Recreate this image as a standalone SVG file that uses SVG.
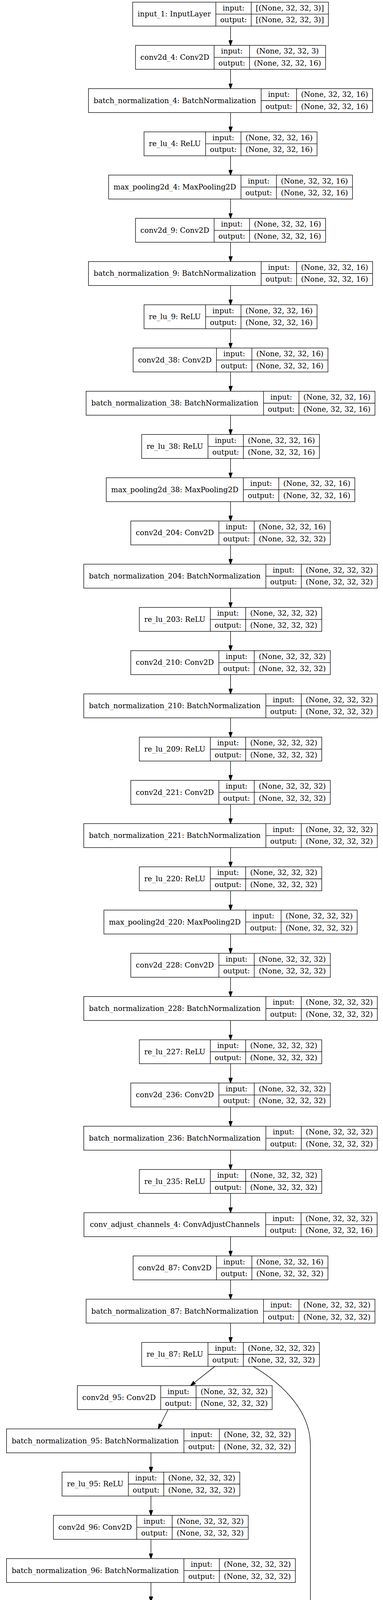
<svg xmlns="http://www.w3.org/2000/svg" width="981" height="5496" viewBox="0 0 981 5496">
<style>
.node rect{fill:#fff;stroke:#000;stroke-width:1.33}
.node path{fill:none;stroke:#000;stroke-width:1.33}
.node text{font-family:"DejaVu Serif",serif;font-size:18.67px;text-anchor:middle;fill:#000}
#edges path{fill:none;stroke:#000;stroke-width:1.33;marker-end:url(#ah)}
</style>
<defs>
<marker id="ah" markerUnits="userSpaceOnUse" markerWidth="14" markerHeight="10" viewBox="0 0 13.3 9.34" refX="0" refY="4.67" orient="auto"><path d="M0,0L13.3,4.67L0,9.34z" fill="#000" stroke="#000" stroke-width="1"/></marker>
</defs>
<rect x="0" y="0" width="981" height="5496" fill="#fff"/>
<g id="edges">
<path d="M590.5,66.8V102.88"/>
<path d="M590.5,177.48V213.56"/>
<path d="M590.5,288.16V324.24"/>
<path d="M590.5,398.84V434.92"/>
<path d="M590.5,509.52V545.6"/>
<path d="M590.5,620.2V656.28"/>
<path d="M590.5,730.88V766.96"/>
<path d="M590.5,841.56V877.64"/>
<path d="M590.5,952.24V988.32"/>
<path d="M590.5,1062.92V1099"/>
<path d="M590.5,1173.6V1209.68"/>
<path d="M590.5,1284.28V1320.36"/>
<path d="M590.5,1394.96V1431.04"/>
<path d="M590.5,1505.64V1541.72"/>
<path d="M590.5,1616.32V1652.4"/>
<path d="M590.5,1727V1763.08"/>
<path d="M590.5,1837.68V1873.76"/>
<path d="M590.5,1948.36V1984.44"/>
<path d="M590.5,2059.04V2095.12"/>
<path d="M590.5,2169.72V2205.8"/>
<path d="M590.5,2280.4V2316.48"/>
<path d="M590.5,2391.08V2427.16"/>
<path d="M590.5,2501.76V2537.84"/>
<path d="M590.5,2612.44V2648.52"/>
<path d="M590.5,2723.12V2759.2"/>
<path d="M590.5,2833.8V2869.88"/>
<path d="M590.5,2944.48V2980.56"/>
<path d="M590.5,3055.16V3091.24"/>
<path d="M590.5,3165.84V3201.92"/>
<path d="M590.5,3276.52V3312.6"/>
<path d="M590.5,3387.2V3423.28"/>
<path d="M550.5,3497.88L498.6,3538.9"/>
<path d="M648.5,3497.88C705,3532 795,3600 795,3700L795,4600C795,4700 770,4730 702.9,4759.4"/>
<path d="M430.4,3608.56L411.41,3646.07"/>
<path d="M386.6,3719.24V3755.32"/>
<path d="M386.6,3829.92V3866"/>
<path d="M386.6,3940.6V3976.68"/>
<path d="M386.6,4051.28V4087.36"/>
<path d="M386.4,4161.96L385.9,4198.04"/>
<path d="M384.1,4272.64L383.2,4308.72"/>
<path d="M381.6,4383.32L381.15,4419.4"/>
<path d="M388.5,4494L395.41,4530.32"/>
<path d="M410.4,4604.68L414.06,4640.83"/>
<path d="M470.5,4715.36L538.7,4757.72"/>
<path d="M600,4826.04V4862.12"/>
<path d="M600,4936.72V4972.8"/>
<path d="M600,5047.4V5083.48"/>
<path d="M600,5158.08V5194.16"/>
<path d="M600,5268.76V5304.84"/>
<path d="M600,5379.44V5415.52"/>
</g>
<g id="input_1" class="node" transform="translate(0,5.5)"><rect x="339.8" y="0" width="501.4" height="61.3"/><path d="M552.8,0V61.3M643.5,0V61.3M552.8,30.65H841.2"/><text x="446.3" y="36.8">input_1: InputLayer</text><text x="598.15" y="21.3">input:</text><text x="598.15" y="51.9">output:</text><text x="742.35" y="21.3">[(None, 32, 32, 3)]</text><text x="742.35" y="51.9">[(None, 32, 32, 3)]</text></g>
<g id="conv2d_4" class="node" transform="translate(0,116.18)"><rect x="347.05" y="0" width="486.9" height="61.3"/><path d="M548.45,0V61.3M639.15,0V61.3M548.45,30.65H833.95"/><text x="447.75" y="36.8">conv2d_4: Conv2D</text><text x="593.8" y="21.3">input:</text><text x="593.8" y="51.9">output:</text><text x="736.55" y="21.3">(None, 32, 32, 3)</text><text x="736.55" y="51.9">(None, 32, 32, 16)</text></g>
<g id="batch_normalization_4" class="node" transform="translate(0,226.86)"><rect x="226.6" y="0" width="727.8" height="61.3"/><path d="M668.9,0V61.3M759.6,0V61.3M668.9,30.65H954.4"/><text x="447.75" y="36.8">batch_normalization_4: BatchNormalization</text><text x="714.25" y="21.3">input:</text><text x="714.25" y="51.9">output:</text><text x="857" y="21.3">(None, 32, 32, 16)</text><text x="857" y="51.9">(None, 32, 32, 16)</text></g>
<g id="re_lu_4" class="node" transform="translate(0,337.54)"><rect x="368.9" y="0" width="443.2" height="61.3"/><path d="M526.6,0V61.3M617.3,0V61.3M526.6,30.65H812.1"/><text x="447.75" y="36.8">re_lu_4: ReLU</text><text x="571.95" y="21.3">input:</text><text x="571.95" y="51.9">output:</text><text x="714.7" y="21.3">(None, 32, 32, 16)</text><text x="714.7" y="51.9">(None, 32, 32, 16)</text></g>
<g id="max_pooling2d_4" class="node" transform="translate(0,448.22)"><rect x="278.2" y="0" width="624.6" height="61.3"/><path d="M617.3,0V61.3M708,0V61.3M617.3,30.65H902.8"/><text x="447.75" y="36.8">max_pooling2d_4: MaxPooling2D</text><text x="662.65" y="21.3">input:</text><text x="662.65" y="51.9">output:</text><text x="805.4" y="21.3">(None, 32, 32, 16)</text><text x="805.4" y="51.9">(None, 32, 32, 16)</text></g>
<g id="conv2d_9" class="node" transform="translate(0,558.9)"><rect x="347.05" y="0" width="486.9" height="61.3"/><path d="M548.45,0V61.3M639.15,0V61.3M548.45,30.65H833.95"/><text x="447.75" y="36.8">conv2d_9: Conv2D</text><text x="593.8" y="21.3">input:</text><text x="593.8" y="51.9">output:</text><text x="736.55" y="21.3">(None, 32, 32, 16)</text><text x="736.55" y="51.9">(None, 32, 32, 16)</text></g>
<g id="batch_normalization_9" class="node" transform="translate(0,669.58)"><rect x="226.6" y="0" width="727.8" height="61.3"/><path d="M668.9,0V61.3M759.6,0V61.3M668.9,30.65H954.4"/><text x="447.75" y="36.8">batch_normalization_9: BatchNormalization</text><text x="714.25" y="21.3">input:</text><text x="714.25" y="51.9">output:</text><text x="857" y="21.3">(None, 32, 32, 16)</text><text x="857" y="51.9">(None, 32, 32, 16)</text></g>
<g id="re_lu_9" class="node" transform="translate(0,780.26)"><rect x="368.9" y="0" width="443.2" height="61.3"/><path d="M526.6,0V61.3M617.3,0V61.3M526.6,30.65H812.1"/><text x="447.75" y="36.8">re_lu_9: ReLU</text><text x="571.95" y="21.3">input:</text><text x="571.95" y="51.9">output:</text><text x="714.7" y="21.3">(None, 32, 32, 16)</text><text x="714.7" y="51.9">(None, 32, 32, 16)</text></g>
<g id="conv2d_38" class="node" transform="translate(0,890.94)"><rect x="341" y="0" width="499" height="61.3"/><path d="M554.5,0V61.3M645.2,0V61.3M554.5,30.65H840"/><text x="447.75" y="36.8">conv2d_38: Conv2D</text><text x="599.85" y="21.3">input:</text><text x="599.85" y="51.9">output:</text><text x="742.6" y="21.3">(None, 32, 32, 16)</text><text x="742.6" y="51.9">(None, 32, 32, 16)</text></g>
<g id="batch_normalization_38" class="node" transform="translate(0,1001.62)"><rect x="220.55" y="0" width="739.9" height="61.3"/><path d="M674.95,0V61.3M765.65,0V61.3M674.95,30.65H960.45"/><text x="447.75" y="36.8">batch_normalization_38: BatchNormalization</text><text x="720.3" y="21.3">input:</text><text x="720.3" y="51.9">output:</text><text x="863.05" y="21.3">(None, 32, 32, 16)</text><text x="863.05" y="51.9">(None, 32, 32, 16)</text></g>
<g id="re_lu_38" class="node" transform="translate(0,1112.3)"><rect x="362.85" y="0" width="455.3" height="61.3"/><path d="M532.65,0V61.3M623.35,0V61.3M532.65,30.65H818.15"/><text x="447.75" y="36.8">re_lu_38: ReLU</text><text x="578" y="21.3">input:</text><text x="578" y="51.9">output:</text><text x="720.75" y="21.3">(None, 32, 32, 16)</text><text x="720.75" y="51.9">(None, 32, 32, 16)</text></g>
<g id="max_pooling2d_38" class="node" transform="translate(0,1222.98)"><rect x="272.15" y="0" width="636.7" height="61.3"/><path d="M623.35,0V61.3M714.05,0V61.3M623.35,30.65H908.85"/><text x="447.75" y="36.8">max_pooling2d_38: MaxPooling2D</text><text x="668.7" y="21.3">input:</text><text x="668.7" y="51.9">output:</text><text x="811.45" y="21.3">(None, 32, 32, 16)</text><text x="811.45" y="51.9">(None, 32, 32, 16)</text></g>
<g id="conv2d_204" class="node" transform="translate(0,1333.66)"><rect x="334.95" y="0" width="511.1" height="61.3"/><path d="M560.55,0V61.3M651.25,0V61.3M560.55,30.65H846.05"/><text x="447.75" y="36.8">conv2d_204: Conv2D</text><text x="605.9" y="21.3">input:</text><text x="605.9" y="51.9">output:</text><text x="748.65" y="21.3">(None, 32, 32, 16)</text><text x="748.65" y="51.9">(None, 32, 32, 32)</text></g>
<g id="batch_normalization_204" class="node" transform="translate(0,1444.34)"><rect x="214.55" y="0" width="751.9" height="61.3"/><path d="M680.95,0V61.3M771.65,0V61.3M680.95,30.65H966.45"/><text x="447.75" y="36.8">batch_normalization_204: BatchNormalization</text><text x="726.3" y="21.3">input:</text><text x="726.3" y="51.9">output:</text><text x="869.05" y="21.3">(None, 32, 32, 32)</text><text x="869.05" y="51.9">(None, 32, 32, 32)</text></g>
<g id="re_lu_203" class="node" transform="translate(0,1555.02)"><rect x="356.85" y="0" width="467.3" height="61.3"/><path d="M538.65,0V61.3M629.35,0V61.3M538.65,30.65H824.15"/><text x="447.75" y="36.8">re_lu_203: ReLU</text><text x="584" y="21.3">input:</text><text x="584" y="51.9">output:</text><text x="726.75" y="21.3">(None, 32, 32, 32)</text><text x="726.75" y="51.9">(None, 32, 32, 32)</text></g>
<g id="conv2d_210" class="node" transform="translate(0,1665.7)"><rect x="334.95" y="0" width="511.1" height="61.3"/><path d="M560.55,0V61.3M651.25,0V61.3M560.55,30.65H846.05"/><text x="447.75" y="36.8">conv2d_210: Conv2D</text><text x="605.9" y="21.3">input:</text><text x="605.9" y="51.9">output:</text><text x="748.65" y="21.3">(None, 32, 32, 32)</text><text x="748.65" y="51.9">(None, 32, 32, 32)</text></g>
<g id="batch_normalization_210" class="node" transform="translate(0,1776.38)"><rect x="214.55" y="0" width="751.9" height="61.3"/><path d="M680.95,0V61.3M771.65,0V61.3M680.95,30.65H966.45"/><text x="447.75" y="36.8">batch_normalization_210: BatchNormalization</text><text x="726.3" y="21.3">input:</text><text x="726.3" y="51.9">output:</text><text x="869.05" y="21.3">(None, 32, 32, 32)</text><text x="869.05" y="51.9">(None, 32, 32, 32)</text></g>
<g id="re_lu_209" class="node" transform="translate(0,1887.06)"><rect x="356.85" y="0" width="467.3" height="61.3"/><path d="M538.65,0V61.3M629.35,0V61.3M538.65,30.65H824.15"/><text x="447.75" y="36.8">re_lu_209: ReLU</text><text x="584" y="21.3">input:</text><text x="584" y="51.9">output:</text><text x="726.75" y="21.3">(None, 32, 32, 32)</text><text x="726.75" y="51.9">(None, 32, 32, 32)</text></g>
<g id="conv2d_221" class="node" transform="translate(0,1997.74)"><rect x="334.95" y="0" width="511.1" height="61.3"/><path d="M560.55,0V61.3M651.25,0V61.3M560.55,30.65H846.05"/><text x="447.75" y="36.8">conv2d_221: Conv2D</text><text x="605.9" y="21.3">input:</text><text x="605.9" y="51.9">output:</text><text x="748.65" y="21.3">(None, 32, 32, 32)</text><text x="748.65" y="51.9">(None, 32, 32, 32)</text></g>
<g id="batch_normalization_221" class="node" transform="translate(0,2108.42)"><rect x="214.55" y="0" width="751.9" height="61.3"/><path d="M680.95,0V61.3M771.65,0V61.3M680.95,30.65H966.45"/><text x="447.75" y="36.8">batch_normalization_221: BatchNormalization</text><text x="726.3" y="21.3">input:</text><text x="726.3" y="51.9">output:</text><text x="869.05" y="21.3">(None, 32, 32, 32)</text><text x="869.05" y="51.9">(None, 32, 32, 32)</text></g>
<g id="re_lu_220" class="node" transform="translate(0,2219.1)"><rect x="356.85" y="0" width="467.3" height="61.3"/><path d="M538.65,0V61.3M629.35,0V61.3M538.65,30.65H824.15"/><text x="447.75" y="36.8">re_lu_220: ReLU</text><text x="584" y="21.3">input:</text><text x="584" y="51.9">output:</text><text x="726.75" y="21.3">(None, 32, 32, 32)</text><text x="726.75" y="51.9">(None, 32, 32, 32)</text></g>
<g id="max_pooling2d_220" class="node" transform="translate(0,2329.78)"><rect x="266.15" y="0" width="648.7" height="61.3"/><path d="M629.35,0V61.3M720.05,0V61.3M629.35,30.65H914.85"/><text x="447.75" y="36.8">max_pooling2d_220: MaxPooling2D</text><text x="674.7" y="21.3">input:</text><text x="674.7" y="51.9">output:</text><text x="817.45" y="21.3">(None, 32, 32, 32)</text><text x="817.45" y="51.9">(None, 32, 32, 32)</text></g>
<g id="conv2d_228" class="node" transform="translate(0,2440.46)"><rect x="334.95" y="0" width="511.1" height="61.3"/><path d="M560.55,0V61.3M651.25,0V61.3M560.55,30.65H846.05"/><text x="447.75" y="36.8">conv2d_228: Conv2D</text><text x="605.9" y="21.3">input:</text><text x="605.9" y="51.9">output:</text><text x="748.65" y="21.3">(None, 32, 32, 32)</text><text x="748.65" y="51.9">(None, 32, 32, 32)</text></g>
<g id="batch_normalization_228" class="node" transform="translate(0,2551.14)"><rect x="214.55" y="0" width="751.9" height="61.3"/><path d="M680.95,0V61.3M771.65,0V61.3M680.95,30.65H966.45"/><text x="447.75" y="36.8">batch_normalization_228: BatchNormalization</text><text x="726.3" y="21.3">input:</text><text x="726.3" y="51.9">output:</text><text x="869.05" y="21.3">(None, 32, 32, 32)</text><text x="869.05" y="51.9">(None, 32, 32, 32)</text></g>
<g id="re_lu_227" class="node" transform="translate(0,2661.82)"><rect x="356.85" y="0" width="467.3" height="61.3"/><path d="M538.65,0V61.3M629.35,0V61.3M538.65,30.65H824.15"/><text x="447.75" y="36.8">re_lu_227: ReLU</text><text x="584" y="21.3">input:</text><text x="584" y="51.9">output:</text><text x="726.75" y="21.3">(None, 32, 32, 32)</text><text x="726.75" y="51.9">(None, 32, 32, 32)</text></g>
<g id="conv2d_236" class="node" transform="translate(0,2772.5)"><rect x="334.95" y="0" width="511.1" height="61.3"/><path d="M560.55,0V61.3M651.25,0V61.3M560.55,30.65H846.05"/><text x="447.75" y="36.8">conv2d_236: Conv2D</text><text x="605.9" y="21.3">input:</text><text x="605.9" y="51.9">output:</text><text x="748.65" y="21.3">(None, 32, 32, 32)</text><text x="748.65" y="51.9">(None, 32, 32, 32)</text></g>
<g id="batch_normalization_236" class="node" transform="translate(0,2883.18)"><rect x="214.55" y="0" width="751.9" height="61.3"/><path d="M680.95,0V61.3M771.65,0V61.3M680.95,30.65H966.45"/><text x="447.75" y="36.8">batch_normalization_236: BatchNormalization</text><text x="726.3" y="21.3">input:</text><text x="726.3" y="51.9">output:</text><text x="869.05" y="21.3">(None, 32, 32, 32)</text><text x="869.05" y="51.9">(None, 32, 32, 32)</text></g>
<g id="re_lu_235" class="node" transform="translate(0,2993.86)"><rect x="356.85" y="0" width="467.3" height="61.3"/><path d="M538.65,0V61.3M629.35,0V61.3M538.65,30.65H824.15"/><text x="447.75" y="36.8">re_lu_235: ReLU</text><text x="584" y="21.3">input:</text><text x="584" y="51.9">output:</text><text x="726.75" y="21.3">(None, 32, 32, 32)</text><text x="726.75" y="51.9">(None, 32, 32, 32)</text></g>
<g id="conv_adjust_channels_4" class="node" transform="translate(0,3104.54)"><rect x="215" y="0" width="751" height="61.3"/><path d="M680.5,0V61.3M771.2,0V61.3M680.5,30.65H966"/><text x="447.75" y="36.8">conv_adjust_channels_4: ConvAdjustChannels</text><text x="725.85" y="21.3">input:</text><text x="725.85" y="51.9">output:</text><text x="868.6" y="21.3">(None, 32, 32, 32)</text><text x="868.6" y="51.9">(None, 32, 32, 16)</text></g>
<g id="conv2d_87" class="node" transform="translate(0,3215.22)"><rect x="341" y="0" width="499" height="61.3"/><path d="M554.5,0V61.3M645.2,0V61.3M554.5,30.65H840"/><text x="447.75" y="36.8">conv2d_87: Conv2D</text><text x="599.85" y="21.3">input:</text><text x="599.85" y="51.9">output:</text><text x="742.6" y="21.3">(None, 32, 32, 16)</text><text x="742.6" y="51.9">(None, 32, 32, 32)</text></g>
<g id="batch_normalization_87" class="node" transform="translate(0,3325.9)"><rect x="220.55" y="0" width="739.9" height="61.3"/><path d="M674.95,0V61.3M765.65,0V61.3M674.95,30.65H960.45"/><text x="447.75" y="36.8">batch_normalization_87: BatchNormalization</text><text x="720.3" y="21.3">input:</text><text x="720.3" y="51.9">output:</text><text x="863.05" y="21.3">(None, 32, 32, 32)</text><text x="863.05" y="51.9">(None, 32, 32, 32)</text></g>
<g id="re_lu_87" class="node" transform="translate(0,3436.58)"><rect x="362.85" y="0" width="455.3" height="61.3"/><path d="M532.65,0V61.3M623.35,0V61.3M532.65,30.65H818.15"/><text x="447.75" y="36.8">re_lu_87: ReLU</text><text x="578" y="21.3">input:</text><text x="578" y="51.9">output:</text><text x="720.75" y="21.3">(None, 32, 32, 32)</text><text x="720.75" y="51.9">(None, 32, 32, 32)</text></g>
<g id="conv2d_95" class="node" transform="translate(0,3547.26)"><rect x="198.1" y="0" width="499" height="61.3"/><path d="M411.6,0V61.3M502.3,0V61.3M411.6,30.65H697.1"/><text x="304.85" y="36.8">conv2d_95: Conv2D</text><text x="456.95" y="21.3">input:</text><text x="456.95" y="51.9">output:</text><text x="599.7" y="21.3">(None, 32, 32, 32)</text><text x="599.7" y="51.9">(None, 32, 32, 32)</text></g>
<g id="batch_normalization_95" class="node" transform="translate(0,3657.94)"><rect x="16.65" y="0" width="739.9" height="61.3"/><path d="M471.05,0V61.3M561.75,0V61.3M471.05,30.65H756.55"/><text x="243.85" y="36.8">batch_normalization_95: BatchNormalization</text><text x="516.4" y="21.3">input:</text><text x="516.4" y="51.9">output:</text><text x="659.15" y="21.3">(None, 32, 32, 32)</text><text x="659.15" y="51.9">(None, 32, 32, 32)</text></g>
<g id="re_lu_95" class="node" transform="translate(0,3768.62)"><rect x="158.95" y="0" width="455.3" height="61.3"/><path d="M328.75,0V61.3M419.45,0V61.3M328.75,30.65H614.25"/><text x="243.85" y="36.8">re_lu_95: ReLU</text><text x="374.1" y="21.3">input:</text><text x="374.1" y="51.9">output:</text><text x="516.85" y="21.3">(None, 32, 32, 32)</text><text x="516.85" y="51.9">(None, 32, 32, 32)</text></g>
<g id="conv2d_96" class="node" transform="translate(0,3879.3)"><rect x="136.8" y="0" width="499" height="61.3"/><path d="M350.3,0V61.3M441,0V61.3M350.3,30.65H635.8"/><text x="243.55" y="36.8">conv2d_96: Conv2D</text><text x="395.65" y="21.3">input:</text><text x="395.65" y="51.9">output:</text><text x="538.4" y="21.3">(None, 32, 32, 32)</text><text x="538.4" y="51.9">(None, 32, 32, 32)</text></g>
<g id="batch_normalization_96" class="node" transform="translate(0,3989.98)"><rect x="16.65" y="0" width="739.9" height="61.3"/><path d="M471.05,0V61.3M561.75,0V61.3M471.05,30.65H756.55"/><text x="243.85" y="36.8">batch_normalization_96: BatchNormalization</text><text x="516.4" y="21.3">input:</text><text x="516.4" y="51.9">output:</text><text x="659.15" y="21.3">(None, 32, 32, 32)</text><text x="659.15" y="51.9">(None, 32, 32, 32)</text></g>
<g id="re_lu_96" class="node" transform="translate(0,4100.66)"><rect x="158.95" y="0" width="455.3" height="61.3"/><path d="M328.75,0V61.3M419.45,0V61.3M328.75,30.65H614.25"/><text x="243.85" y="36.8">re_lu_96: ReLU</text><text x="374.1" y="21.3">input:</text><text x="374.1" y="51.9">output:</text><text x="516.85" y="21.3">(None, 32, 32, 32)</text><text x="516.85" y="51.9">(None, 32, 32, 32)</text></g>
<g id="max_pooling2d_96" class="node" transform="translate(0,4211.34)"><rect x="66.65" y="0" width="636.7" height="61.3"/><path d="M417.85,0V61.3M508.55,0V61.3M417.85,30.65H703.35"/><text x="242.25" y="36.8">max_pooling2d_96: MaxPooling2D</text><text x="463.2" y="21.3">input:</text><text x="463.2" y="51.9">output:</text><text x="605.95" y="21.3">(None, 32, 32, 32)</text><text x="605.95" y="51.9">(None, 32, 32, 32)</text></g>
<g id="conv2d_106" class="node" transform="translate(0,4322.02)"><rect x="126.75" y="0" width="511.1" height="61.3"/><path d="M352.35,0V61.3M443.05,0V61.3M352.35,30.65H637.85"/><text x="239.55" y="36.8">conv2d_106: Conv2D</text><text x="397.7" y="21.3">input:</text><text x="397.7" y="51.9">output:</text><text x="540.45" y="21.3">(None, 32, 32, 32)</text><text x="540.45" y="51.9">(None, 32, 32, 32)</text></g>
<g id="batch_normalization_106" class="node" transform="translate(0,4432.7)"><rect x="5.65" y="0" width="751.9" height="61.3"/><path d="M472.05,0V61.3M562.75,0V61.3M472.05,30.65H757.55"/><text x="238.85" y="36.8">batch_normalization_106: BatchNormalization</text><text x="517.4" y="21.3">input:</text><text x="517.4" y="51.9">output:</text><text x="660.15" y="21.3">(None, 32, 32, 32)</text><text x="660.15" y="51.9">(None, 32, 32, 32)</text></g>
<g id="re_lu_106" class="node" transform="translate(0,4543.38)"><rect x="172.95" y="0" width="467.3" height="61.3"/><path d="M354.75,0V61.3M445.45,0V61.3M354.75,30.65H640.25"/><text x="263.85" y="36.8">re_lu_106: ReLU</text><text x="400.1" y="21.3">input:</text><text x="400.1" y="51.9">output:</text><text x="542.85" y="21.3">(None, 32, 32, 32)</text><text x="542.85" y="51.9">(None, 32, 32, 32)</text></g>
<g id="max_pooling2d_106" class="node" transform="translate(0,4654.06)"><rect x="95.75" y="0" width="648.7" height="61.3"/><path d="M458.95,0V61.3M549.65,0V61.3M458.95,30.65H744.45"/><text x="277.35" y="36.8">max_pooling2d_106: MaxPooling2D</text><text x="504.3" y="21.3">input:</text><text x="504.3" y="51.9">output:</text><text x="647.05" y="21.3">(None, 32, 32, 32)</text><text x="647.05" y="51.9">(None, 32, 32, 32)</text></g>
<g id="add_19" class="node" transform="translate(0,4764.74)"><rect x="286.55" y="0" width="626.9" height="61.3"/><path d="M427.95,0V61.3M518.65,0V61.3M427.95,30.65H913.45"/><text x="357.25" y="36.8">add_19: Add</text><text x="473.3" y="21.3">input:</text><text x="473.3" y="51.9">output:</text><text x="716.05" y="21.3">[(None, 32, 32, 32), (None, 32, 32, 32)]</text><text x="716.05" y="51.9">(None, 32, 32, 32)</text></g>
<g id="conv2d_113" class="node" transform="translate(0,4875.42)"><rect x="344.45" y="0" width="511.1" height="61.3"/><path d="M570.05,0V61.3M660.75,0V61.3M570.05,30.65H855.55"/><text x="457.25" y="36.8">conv2d_113: Conv2D</text><text x="615.4" y="21.3">input:</text><text x="615.4" y="51.9">output:</text><text x="758.15" y="21.3">(None, 32, 32, 32)</text><text x="758.15" y="51.9">(None, 32, 32, 32)</text></g>
<g id="batch_normalization_113" class="node" transform="translate(0,4986.1)"><rect x="224.05" y="0" width="751.9" height="61.3"/><path d="M690.45,0V61.3M781.15,0V61.3M690.45,30.65H975.95"/><text x="457.25" y="36.8">batch_normalization_113: BatchNormalization</text><text x="735.8" y="21.3">input:</text><text x="735.8" y="51.9">output:</text><text x="878.55" y="21.3">(None, 32, 32, 32)</text><text x="878.55" y="51.9">(None, 32, 32, 32)</text></g>
<g id="re_lu_113" class="node" transform="translate(0,5096.78)"><rect x="366.35" y="0" width="467.3" height="61.3"/><path d="M548.15,0V61.3M638.85,0V61.3M548.15,30.65H833.65"/><text x="457.25" y="36.8">re_lu_113: ReLU</text><text x="593.5" y="21.3">input:</text><text x="593.5" y="51.9">output:</text><text x="736.25" y="21.3">(None, 32, 32, 32)</text><text x="736.25" y="51.9">(None, 32, 32, 32)</text></g>
<g id="flatten_140" class="node" transform="translate(0,5207.46)"><rect x="351.55" y="0" width="496.9" height="61.3"/><path d="M562.95,0V61.3M653.65,0V61.3M562.95,30.65H848.45"/><text x="457.25" y="36.8">flatten_140: Flatten</text><text x="608.3" y="21.3">input:</text><text x="608.3" y="51.9">output:</text><text x="751.05" y="21.3">(None, 32, 32, 32)</text><text x="751.05" y="51.9">(None, 32768)</text></g>
<g id="dense_280" class="node" transform="translate(0,5318.14)"><rect x="378.85" y="0" width="442.3" height="61.3"/><path d="M572.75,0V61.3M663.45,0V61.3M572.75,30.65H821.15"/><text x="475.8" y="36.8">dense_280: Dense</text><text x="618.1" y="21.3">input:</text><text x="618.1" y="51.9">output:</text><text x="742.3" y="21.3">(None, 32768)</text><text x="742.3" y="51.9">(None, 256)</text></g>
<g id="dense_281" class="node" transform="translate(0,5428.82)"><rect x="390.45" y="0" width="419.1" height="61.3"/><path d="M584.35,0V61.3M675.05,0V61.3M584.35,30.65H809.55"/><text x="487.4" y="36.8">dense_281: Dense</text><text x="629.7" y="21.3">input:</text><text x="629.7" y="51.9">output:</text><text x="742.3" y="21.3">(None, 256)</text><text x="742.3" y="51.9">(None, 10)</text></g>
</svg>
